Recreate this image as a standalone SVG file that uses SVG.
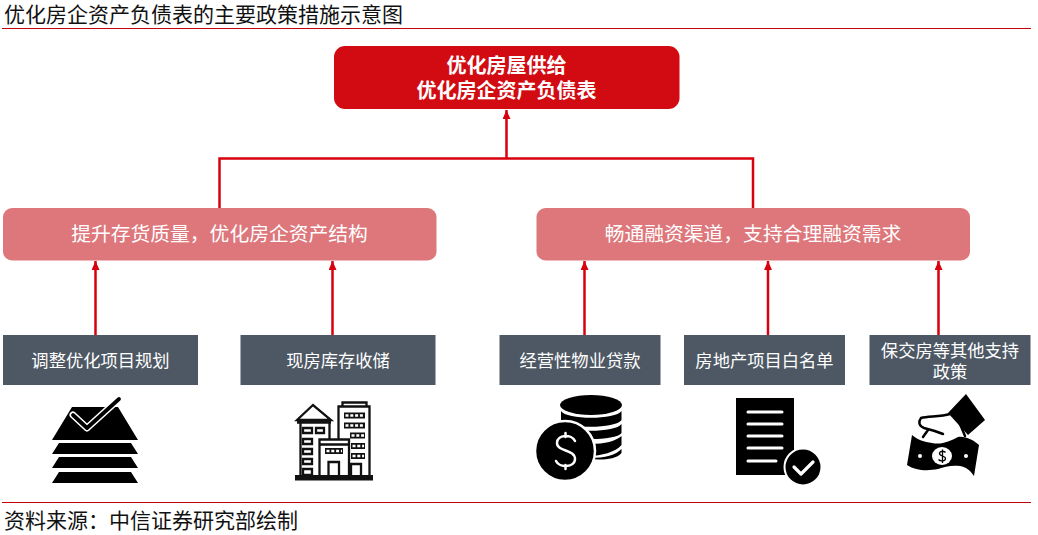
<svg xmlns="http://www.w3.org/2000/svg" width="1038" height="535" viewBox="0 0 1038 535">
<style>
text{font-family:"Liberation Sans","Noto Sans CJK SC",sans-serif;text-anchor:middle}
.cap{font-size:21px;fill:#111;text-anchor:start}
.rule{stroke:#c8000a;stroke-width:1;fill:none}
.top{font-size:20px;font-weight:700;fill:#fff}
.mid{font-size:19.800px;fill:#fff}
.box{fill:#4d5864}
.lab{font-size:17.300px;fill:#fff}
.c{stroke:#d9000d;stroke-width:2.500;fill:none}
.w{stroke:#fff;fill:none;stroke-linecap:round;stroke-linejoin:round}
.b{fill:none;stroke:#111;stroke-width:2.300}
.s{fill:none;stroke:#111;stroke-width:6}
.d{fill:none;stroke:#fff;stroke-width:2.600;stroke-dasharray:3 1.800}
</style>
<defs>
<marker id="a" markerUnits="userSpaceOnUse" markerWidth="10" markerHeight="10" refX="9" refY="4" orient="auto"><path d="M0 0L9 4L0 8z" fill="#d9000d"/></marker>
</defs>
<rect width="1038" height="535" fill="#fff"/>
<text class="cap" x="4" y="22">优化房企资产负债表的主要政策措施示意图</text>
<path class="rule" d="M2 28.500H1031M2 502.500H1031"/>
<text class="cap" x="4" y="528">资料来源&#xFF1A;中信证券研究部绘制</text>
<g id="connectors">
<path class="c" d="M219.500 208V158.500H753V208"/>
<path class="c" d="M506.500 158.500V110" marker-end="url(#a)"/>
<path class="c" d="M95.500 335V261" marker-end="url(#a)"/>
<path class="c" d="M332.500 335V261" marker-end="url(#a)"/>
<path class="c" d="M584.500 335V261" marker-end="url(#a)"/>
<path class="c" d="M768 335V261" marker-end="url(#a)"/>
<path class="c" d="M938.500 335V261" marker-end="url(#a)"/>
</g>
<g id="n-top"><rect x="334" y="46" width="345.500" height="63" rx="11" fill="#d20b12"/>
<text class="top" x="506.500" y="73">优化房屋供给</text><text class="top" x="506.500" y="97.500">优化房企资产负债表</text></g>
<g id="n-left"><rect x="3" y="208" width="433.500" height="52.500" rx="9" fill="#dd777b"/><text class="mid" x="219.500" y="241">提升存货质量&#xFF0C;优化房企资产结构</text></g>
<g id="n-right"><rect x="536.500" y="208" width="433.500" height="52.500" rx="9" fill="#dd777b"/><text class="mid" x="753" y="241">畅通融资渠道&#xFF0C;支持合理融资需求</text></g>
<g id="n1"><rect class="box" x="3" y="335" width="195" height="50"/><text class="lab" x="100.500" y="366.500">调整优化项目规划</text>
<path d="M72 407H118L138 440H52ZM59 443H131L138 454H52ZM59 457H131L138 468H52ZM59 472H131L138 483H52Z"/>
<path d="M73 415L87 428L119 399" stroke="#fff" stroke-width="7" fill="none" stroke-linecap="round" stroke-linejoin="round"/><path d="M73 415L87 428L119 399" stroke="#000" stroke-width="3.800" fill="none" stroke-linecap="round" stroke-linejoin="round"/></g>
<g id="n2"><rect class="box" x="240.500" y="335" width="195" height="50"/><text class="lab" x="338" y="366.500">现房库存收储</text>
<path class="b" d="M297 420L313 405L331 420ZM297 422.500H331M300.500 423V476M329.500 423V439M338.500 439V406.500H369.500V476M342.500 406V402.500H366.500V406M319.500 476V439.500H349V476M319.500 444.500H349M328.500 476V462H339V476M351 476V464H361V476"/>
<rect x="295" y="475" width="78" height="5.500" fill="#111"/>
<path class="b" stroke-width="2" d="M303 428h9v5h-9zM316 428h8v5h-8zM303 439h9v5h-9zM303 449h9v5h-9zM303 459h9v5h-9zM303 469h9v6h-9z"/>
<path class="s" d="M344 415.500H365M344 425.500H365M350 435.500H365M351 446H365M351 456H365M325 451H343"/>
<path class="d" d="M345.500 415.500H364M345.500 425.500H364M351.500 435.500H364M352.500 446H364M352.500 456H364M326.500 451H342"/></g>
<g id="n3"><rect class="box" x="499.500" y="335" width="161" height="50"/><text class="lab" x="580" y="366.500">经营性物业贷款</text>
<ellipse cx="591" cy="405" rx="31" ry="10"/><path d="M561 411C566 420 616 420 621.500 411V420C616 429 566 429 561 420ZM561 424C566 433 616 433 621.500 424V433C616 441 566 441 561 433ZM590 444C605 444 616 441 621.500 436V445C616 452 600 456 590 456ZM590 458C605 458 616 455 621.500 449V453C616 460 600 460 590 459Z"/>
<circle cx="565" cy="451" r="30" stroke="#fff" stroke-width="2.500"/>
<path class="w" stroke-width="2.500" d="M575 441C572 434 557 434 557 443C557 452 575 449 575 459C575 468 559 468 556 461M565.500 433V437M565.500 465V469"/></g>
<g id="n4"><rect class="box" x="684" y="335" width="161" height="50"/><text class="lab" x="764.500" y="366.500">房地产项目白名单</text>
<rect x="736" y="398" width="58" height="77"/>
<path class="w" stroke-width="3" d="M748 412H782M748 424H782M748 436H782M748 448H782M748 461H776"/>
<circle cx="803" cy="467" r="18.500" stroke="#fff" stroke-width="2"/><path class="w" stroke-width="3.200" d="M794 467L801 474L813 462"/></g>
<g id="n5"><rect class="box" x="869.500" y="335" width="161" height="50"/><text class="lab" x="950" y="357">保交房等其他支持</text><text class="lab" x="950" y="377.500">政策</text>
<path d="M966 394L985 420L968 435L948 413Z"/>
<path d="M950 414C940 417 928 416 921 418C918 422 919 426 924 428C932 430 938 432 943 434M928 430L923 437M958 420C961 426 963 431 965 436" fill="none" stroke="#000" stroke-width="2.500" stroke-linecap="round"/>
<path d="M912 435C918 440 924 442 932 443C942 445 950 441 958 437C966 436 973 440 979 445L974 476C970 470 966 467 960 466C950 465 945 467 938 469C928 471 916 471 907 465Z"/>
<ellipse cx="942" cy="456" rx="10" ry="9" fill="#fff"/>
<path d="M945.500 452.500C944 450.500 939.500 451 939.500 453.500C939.500 456.500 945.500 455.500 945.500 458.500C945.500 461.500 940 461.500 938.500 459.500M942.500 449.500V463" fill="none" stroke="#000" stroke-width="1.300"/>
<circle cx="920" cy="456" r="2" fill="#fff"/><circle cx="966" cy="456" r="2" fill="#fff"/></g>
</svg>
